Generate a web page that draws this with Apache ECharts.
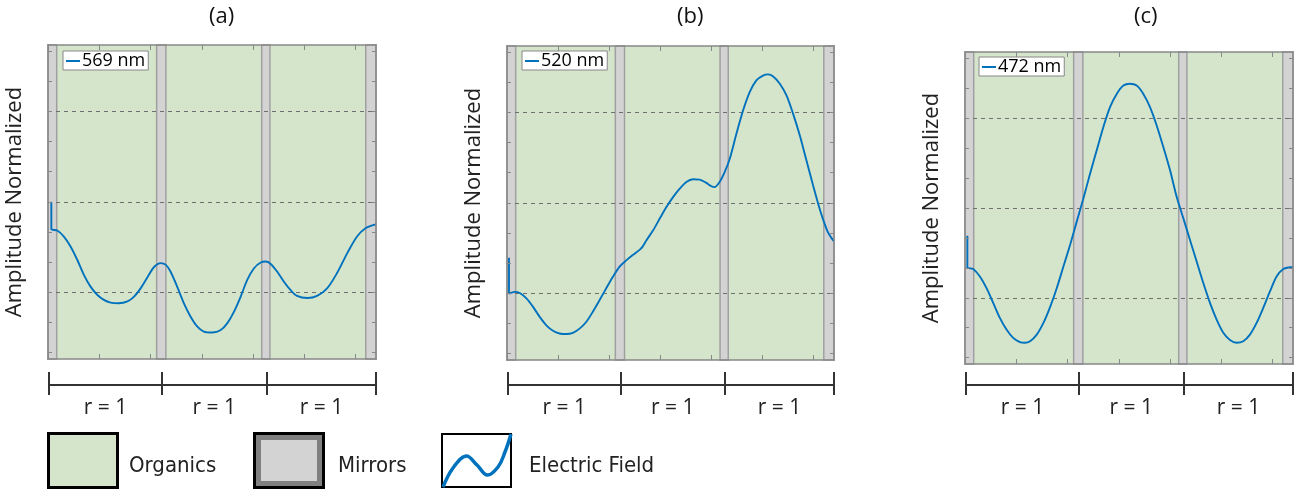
<!DOCTYPE html>
<html>
<head>
<meta charset="utf-8">
<style>
  html, body { margin: 0; padding: 0; background: #fff; }
  #main { width: 1307px; height: 492px; }
</style>
<script src="https://cdn.jsdelivr.net/npm/echarts@6/dist/echarts.min.js"></script>
</head>
<body>
<div id="main"></div>
<script>
// panel data (x in nm across the 3 cavities, y = normalized amplitude)
var panelTitles = ['(a)', '(b)', '(c)'];
var wavelengths = ['569 nm', '520 nm', '472 nm'];

var curveA = [[6.5, 0.500], [6.5, 0.410], [18, 0.405], [31, 0.385], [44, 0.352], [57, 0.308], [70, 0.258],
  [83, 0.219], [96, 0.192], [109, 0.175], [122, 0.166], [138, 0.164], [155, 0.170], [168, 0.186],
  [181, 0.214], [194, 0.250], [207, 0.284], [220, 0.297], [230, 0.291], [239, 0.269], [252, 0.219],
  [265, 0.164], [278, 0.120], [291, 0.087], [304, 0.070], [321, 0.067], [337, 0.075], [350, 0.098],
  [363, 0.136], [376, 0.186], [389, 0.242], [402, 0.280], [415, 0.299], [425, 0.302], [434, 0.295],
  [447, 0.269], [460, 0.236], [473, 0.208], [486, 0.188], [506, 0.181], [525, 0.188], [545, 0.214],
  [564, 0.264], [584, 0.330], [603, 0.385], [620, 0.413], [636, 0.424], [640, 0.425]];

var curveB = [[3.9, 0.318], [3.9, 0.199], [5, 0.199], [15, 0.205], [25, 0.201], [38, 0.183], [51, 0.155],
  [64, 0.122], [77, 0.094], [90, 0.076], [103, 0.067], [116, 0.065], [129, 0.069], [142, 0.083],
  [155, 0.105], [168, 0.139], [181, 0.177], [194, 0.216], [207, 0.254], [220, 0.288], [234, 0.310],
  [247, 0.328], [260, 0.345], [265, 0.354], [273, 0.376], [286, 0.409], [299, 0.448], [312, 0.486],
  [325, 0.519], [338, 0.547], [351, 0.569], [364, 0.578], [377, 0.577], [390, 0.566], [400, 0.555],
  [406, 0.552], [416, 0.569], [426, 0.602], [436, 0.646], [449, 0.729], [462, 0.806], [475, 0.867],
  [488, 0.906], [501, 0.922], [511, 0.926], [521, 0.919], [534, 0.895], [547, 0.856], [560, 0.795],
  [573, 0.724], [586, 0.641], [599, 0.558], [609, 0.497], [618, 0.448], [628, 0.403], [638, 0.376],
  [640, 0.372]];

var curveC = [[4.6, 0.407], [4.6, 0.302], [16, 0.296], [29, 0.271], [42, 0.232], [55, 0.183], [68, 0.133],
  [81, 0.094], [94, 0.066], [107, 0.052], [117, 0.050], [127, 0.055], [140, 0.077], [153, 0.116],
  [166, 0.169], [179, 0.232], [192, 0.304], [205, 0.376], [218, 0.454], [231, 0.531], [244, 0.614],
  [257, 0.692], [270, 0.770], [283, 0.836], [296, 0.880], [309, 0.908], [322, 0.914], [335, 0.908],
  [348, 0.880], [361, 0.836], [374, 0.775], [387, 0.703], [400, 0.626], [413, 0.537], [426, 0.465],
  [439, 0.393], [452, 0.321], [465, 0.249], [478, 0.183], [491, 0.127], [504, 0.083], [517, 0.059],
  [530, 0.050], [543, 0.055], [556, 0.077], [569, 0.116], [582, 0.166], [595, 0.221], [608, 0.271],
  [621, 0.296], [634, 0.302], [640, 0.303]];

var curves = [curveA, curveB, curveC];
var mirrors = [[0, 17], [212, 230], [417, 433], [620, 640]];
var bracketStops = [2, 222, 427, 640];
var segmentLabels = ['r = 1', 'r = 1', 'r = 1'];
var yTicks = [0, 0.1, 0.2, 0.3, 0.4, 0.5, 0.6, 0.7, 0.8, 0.9, 1.0];
var xTicks = [0, 100, 200, 300, 400, 500, 600];
var dashedLevels = [0.2, 0.5, 0.8];
var keyNames = ['Organics', 'Mirrors', 'Electric Field'];

var FONT = '"Open Sans", "Noto Sans", sans-serif';
var FRAME = '#888888';
var GREEN = '#d5e5cc';
var BLUE = '#0072bd';

// panel placement
var panels = [
  { left: 48, top: 45, width: 328, height: 314, titleX: 218, legL: 63, legT: 51 },
  { left: 507, top: 46, width: 327, height: 314, titleX: 686, legL: 522, legT: 51 },
  { left: 965, top: 52, width: 328, height: 312, titleX: 1143, legL: 979, legT: 57 }
];

var segMids = [];
for (var k = 0; k < bracketStops.length - 1; k++) {
  segMids.push((bracketStops[k] + bracketStops[k + 1]) / 2);
}

function frameX(gi, pos) {
  return {
    type: 'value', gridIndex: gi, position: pos, min: 0, max: 640, interval: 100, z: 10,
    axisLine: { show: true, onZero: false, lineStyle: { color: FRAME, width: 1.5 } },
    axisTick: { show: true, inside: true, length: 5, customValues: xTicks, lineStyle: { color: FRAME } },
    axisLabel: { show: false }, splitLine: { show: false }
  };
}

function frameY(gi, pos, named) {
  return {
    type: 'value', gridIndex: gi, position: pos, min: -0.021, max: 1.02, z: 10,
    name: named ? 'Amplitude Normalized' : '',
    nameLocation: 'middle', nameGap: 22,
    nameTextStyle: { fontFamily: FONT, fontSize: 22, color: '#222' },
    axisLine: { show: true, onZero: false, lineStyle: { color: FRAME, width: 1.5 } },
    axisTick: { show: true, inside: true, length: 4, customValues: yTicks, lineStyle: { color: FRAME } },
    axisLabel: { show: false }, splitLine: { show: false }
  };
}

var grid = [], xAxis = [], yAxis = [], series = [], title = [], legend = [];

panels.forEach(function (p, i) {
  grid.push({ left: p.left, top: p.top, width: p.width, height: p.height, show: true,
    backgroundColor: GREEN, borderWidth: 0, outerBoundsMode: 'none' });
  grid.push({ left: p.left, top: 372, width: p.width, height: 23, outerBoundsMode: 'none' });
  var g = i * 2;

  xAxis.push(frameX(g, 'bottom'), frameX(g, 'top'));
  yAxis.push(frameY(g, 'left', true), frameY(g, 'right', false));
  xAxis.push({
    type: 'value', gridIndex: g + 1, min: 0, max: 640,
    axisLine: { show: false }, axisTick: { show: false }, splitLine: { show: false },
    axisLabel: {
      show: true, customValues: segMids, margin: 3,
      fontFamily: FONT, fontSize: 21, color: '#222',
      formatter: function (v) { return segmentLabels[segMids.indexOf(v)] || ''; }
    }
  });
  yAxis.push({ type: 'value', gridIndex: g + 1, min: -10.5, max: 12.5, show: false });

  var ax = i * 3;
  // mirrors + dashed guide lines
  series.push({
    name: 'mirrors' + i, type: 'line', xAxisIndex: ax, yAxisIndex: ax, data: [], z: 1, silent: true,
    markArea: {
      silent: true,
      itemStyle: { color: '#d3d3d3', borderColor: '#a0a0a0', borderWidth: 1.5 },
      data: mirrors.map(function (m) { return [{ xAxis: m[0] }, { xAxis: m[1] }]; })
    },
    markLine: {
      silent: true, symbol: 'none', label: { show: false },
      lineStyle: { type: [4, 4], color: '#6f6f6f', width: 1 },
      data: dashedLevels.map(function (v) { return { yAxis: v }; })
    }
  });
  // field curve
  series.push({
    name: wavelengths[i], type: 'line', xAxisIndex: ax, yAxisIndex: ax, data: curves[i],
    showSymbol: false, smooth: 0.3, z: 5,
    lineStyle: { color: BLUE, width: 1.9 }, itemStyle: { color: BLUE }
  });
  // r = 1 brackets
  var brk = bracketStops.map(function (v) { return { xAxis: v }; });
  brk.push([{ coord: [bracketStops[0], 0] }, { coord: [bracketStops[bracketStops.length - 1], 0] }]);
  series.push({
    name: 'bracket' + i, type: 'line', xAxisIndex: ax + 2, yAxisIndex: ax + 2, data: [], silent: true,
    markLine: {
      silent: true, symbol: 'none', label: { show: false },
      lineStyle: { type: 'solid', color: '#333', width: 2 },
      data: brk
    }
  });

  title.push({
    text: panelTitles[i], left: p.titleX - 14, top: 1,
    textStyle: { fontFamily: FONT, fontSize: 22, fontWeight: 'normal', color: '#111' }
  });
  legend.push({
    data: [wavelengths[i]], left: p.legL, top: p.legT, selectedMode: false,
    backgroundColor: '#fff', borderColor: FRAME, borderWidth: 1, borderRadius: 0,
    padding: [1, 3, 0, 3], itemWidth: 14, itemHeight: 2, icon: 'rect',
    textStyle: { fontFamily: FONT, fontSize: 18, color: '#000', padding: [0, 0, 0, -3] }
  });
});

// bottom key
var KEYFONT = '"DejaVu Sans Condensed", "DejaVu Sans", sans-serif';
var graphic = [
  { type: 'rect', shape: { x: 48.5, y: 433.5, width: 69, height: 54 },
    style: { fill: GREEN, stroke: '#000', lineWidth: 3 } },
  { type: 'text', x: 129, y: 466,
    style: { text: keyNames[0], font: '22px ' + KEYFONT, fill: '#222', verticalAlign: 'middle' } },
  { type: 'rect', shape: { x: 254.5, y: 433.5, width: 69, height: 54 },
    style: { fill: '#808080', stroke: '#000', lineWidth: 3 } },
  { type: 'rect', shape: { x: 261, y: 440, width: 56, height: 41 },
    style: { fill: '#d3d3d3', stroke: null } },
  { type: 'text', x: 338, y: 466,
    style: { text: keyNames[1], font: '22px ' + KEYFONT, fill: '#222', verticalAlign: 'middle' } },
  { type: 'rect', shape: { x: 442, y: 434, width: 69, height: 53 },
    style: { fill: '#fff', stroke: '#000', lineWidth: 2 } },
  { type: 'polyline', shape: { points: [[443, 487], [453, 468], [466, 456], [477, 465], [487, 475], [498, 467], [505, 452], [511, 434]], smooth: 0.4 },
    style: { fill: null, stroke: BLUE, lineWidth: 3.5 } },
  { type: 'text', x: 529, y: 466,
    style: { text: keyNames[2], font: '22px ' + KEYFONT, fill: '#222', verticalAlign: 'middle' } }
];

var chart = echarts.init(document.getElementById('main'), null, { renderer: 'canvas' });
chart.setOption({
  animation: false,
  title: title,
  legend: legend,
  grid: grid,
  xAxis: xAxis,
  yAxis: yAxis,
  series: series,
  graphic: graphic
});
</script>
</body>
</html>
